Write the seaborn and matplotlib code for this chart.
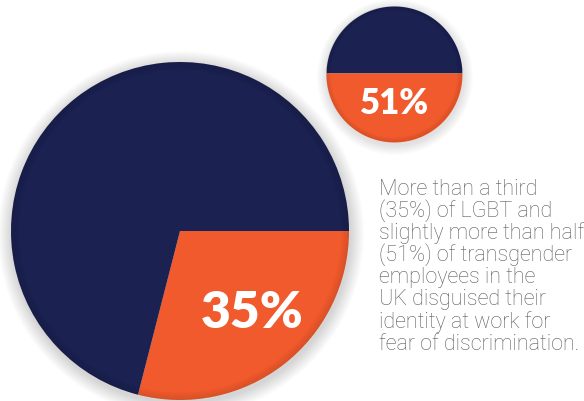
import numpy as np
import matplotlib
matplotlib.use("Agg")
import matplotlib.pyplot as plt
import seaborn as sns
from matplotlib.patches import Circle, Wedge

# ---- data ----
big_slices = [29, 71]            # drawn share of the big pie (orange, navy)
big_label = "35%"
small_share = 51                 # orange (bottom) part of small circle
small_label = "51%"
caption_lines = [
    "More than a third",
    "(35%) of LGBT and",
    "slightly more than half",
    "(51%) of transgender",
    "employees in the",
    "UK disguised their",
    "identity at work for",
    "fear of discrimination.",
]

sns.set_theme(style="white")
navy = "#1b2150"
orange = "#f15a2c"
palette = sns.color_palette([orange, navy])

W, H = 584, 401
fig = plt.figure(figsize=(W / 100, H / 100), dpi=100)
ax = fig.add_axes([0, 0, 1, 1])

def shadow(cx, cy, r, spread, dy=3):
    for i in range(spread, 0, -1):
        ax.add_patch(Circle((cx + 1, cy - dy), r + i, color="black",
                            alpha=0.012, lw=0, zorder=0))

def vignette(cx, cy, r, depth, zorder):
    for i in range(depth):
        ax.add_patch(Wedge((cx, cy), r - i * 0.8, 0, 360, width=0.8,
                           color="black", alpha=0.10 * (1 - i / depth),
                           lw=0, zorder=zorder))

# ---- big pie ----
bcx, bcy, br = 180, 401 - 231, 169
shadow(bcx, bcy, br, 14)
ax.pie(big_slices, colors=palette, startangle=0, counterclock=False,
       center=(bcx, bcy), radius=br, wedgeprops=dict(linewidth=0))
vignette(bcx, bcy, br, 10, 3)
ax.text(252, 401 - 313, big_label, color="white", fontsize=37,
        fontweight="heavy", family=["Lato", "DejaVu Sans"],
        ha="center", va="center", zorder=5)

# ---- small circle split by horizontal chord ----
scx, scy, sr = 394, 401 - 74, 68
frac = small_share / 100.0
lo, hi = -sr, sr
for _ in range(60):
    mid = (lo + hi) / 2
    # area below y = scy + mid
    a = sr * sr * np.arccos(-mid / sr) + mid * np.sqrt(sr * sr - mid * mid)
    if a / (np.pi * sr * sr) < frac:
        lo = mid
    else:
        hi = mid
chord = scy + (lo + hi) / 2
shadow(scx, scy, sr, 10)
xs = np.linspace(scx - sr, scx + sr, 800)
half = np.sqrt(np.clip(sr ** 2 - (xs - scx) ** 2, 0, None))
top = scy + half
bot = scy - half
ax.fill_between(xs, np.maximum(chord, bot), top, where=top > chord,
                color=navy, lw=0, zorder=2)
ax.fill_between(xs, bot, np.minimum(chord, top), color=orange, lw=0, zorder=2)
vignette(scx, scy, sr, 6, 3)
ax.text(395, 401 - 103, small_label, color="white", fontsize=25,
        fontweight="heavy", family=["Lato", "DejaVu Sans"],
        ha="center", va="center", zorder=5)

# ---- caption ----
for i, line in enumerate(caption_lines):
    ax.text(379, 401 - (195 + i * 22.1), line, color="#5c5c5c",
            fontsize=15.5, fontweight="light", family=["Roboto", "DejaVu Sans"],
            ha="left", va="baseline", zorder=5)

ax.set_xlim(0, W)
ax.set_ylim(0, H)
ax.set_aspect("equal")
ax.axis("off")
fig.savefig("out.png", dpi=100, facecolor="white")
